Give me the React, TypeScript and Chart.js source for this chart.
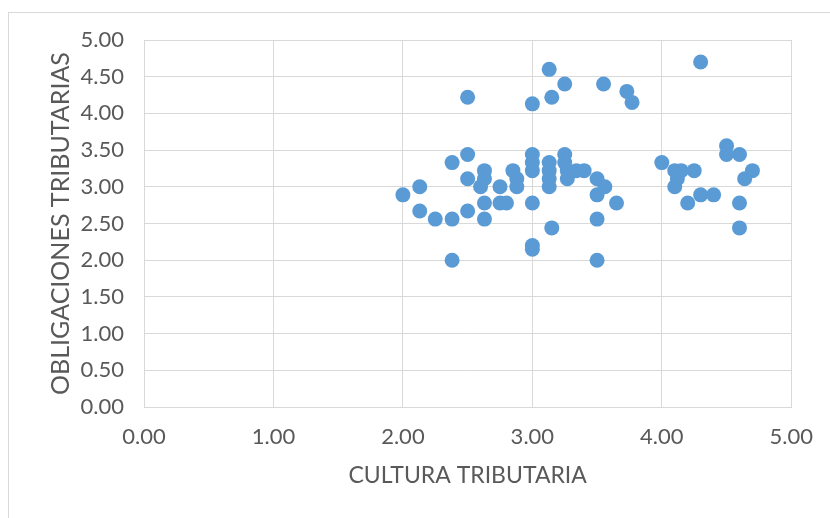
import React, { useEffect, useRef } from "react";
import { Chart, registerables } from "chart.js";

Chart.register(...registerables);

const xValues: number[] = [
  3.13, 3.25, 3.55, 3.73, 3.77, 2.5, 3.15, 3.0, 4.3,
  2.5, 2.38, 3.0, 3.0, 3.0, 3.13, 3.13, 3.13, 3.13,
  3.25, 3.25, 3.27, 3.27, 3.34, 3.4, 2.63, 2.63, 2.6, 2.5,
  2.85, 2.88, 2.88, 2.75, 2.13, 2.0, 2.13, 2.25, 2.38, 2.5,
  2.63, 2.63, 2.75, 2.8, 3.0, 3.15, 3.0, 3.0, 2.38, 3.5,
  3.5, 3.5, 3.56, 3.5, 3.65, 4.0, 4.1, 4.15, 4.12, 4.1,
  4.25, 4.2, 4.3, 4.4, 4.5, 4.5, 4.6, 4.7, 4.64, 4.6, 4.6,
];

const yValues: number[] = [
  4.6, 4.4, 4.4, 4.3, 4.15, 4.22, 4.22, 4.13, 4.7,
  3.44, 3.33, 3.44, 3.33, 3.22, 3.33, 3.22, 3.11, 3.0,
  3.44, 3.33, 3.22, 3.11, 3.22, 3.22, 3.22, 3.11, 3.0, 3.11,
  3.22, 3.11, 3.0, 3.0, 3.0, 2.89, 2.67, 2.56, 2.56, 2.67,
  2.78, 2.56, 2.78, 2.78, 2.78, 2.44, 2.2, 2.15, 2.0, 2.0,
  2.56, 3.11, 3.0, 2.89, 2.78, 3.33, 3.22, 3.22, 3.11, 3.0,
  3.22, 2.78, 2.89, 2.89, 3.56, 3.44, 3.44, 3.22, 3.11, 2.78, 2.44,
];

const xTitle = "CULTURA TRIBUTARIA";
const yTitle = "OBLIGACIONES TRIBUTARIAS";

const FONT = "Lato, 'Open Sans', sans-serif";
const TEXT = "#595959";
const GRID = "#d9d9d9";
const DOT = "#5B9BD5";

const frame = {
  id: "frame",
  beforeDraw(chart: any) {
    const ctx = chart.ctx;
    ctx.save();
    ctx.fillStyle = "#ffffff";
    ctx.fillRect(0, 0, chart.width, chart.height);
    ctx.strokeStyle = GRID;
    ctx.lineWidth = 1;
    ctx.strokeRect(8.5, 12.5, 1200, 1200);
    ctx.restore();
  },
};

export default function App() {
  const ref = useRef<HTMLCanvasElement | null>(null);

  useEffect(() => {
    document.body.style.margin = "0";
    const canvas = ref.current;
    if (!canvas) return;
    const points = xValues.map((x, i) => ({ x, y: yValues[i] }));
    const chart = new Chart(canvas, {
      type: "scatter",
      data: {
        datasets: [
          {
            data: points,
            backgroundColor: DOT,
            borderColor: DOT,
            borderWidth: 0,
            pointRadius: 7.5,
            pointHoverRadius: 7.5,
          },
        ],
      },
      plugins: [frame],
      options: {
        animation: false,
        responsive: false,
        events: [],
        layout: { padding: { top: 40, right: 38, bottom: 0, left: 0 } },
        plugins: { legend: { display: false }, tooltip: { enabled: false } },
        scales: {
          x: {
            type: "linear",
            min: 0,
            max: 5,
            afterFit: (s: any) => {
              s.height = 111;
            },
            ticks: {
              stepSize: 1,
              padding: 17,
              color: TEXT,
              font: { family: FONT, size: 22 },
              callback: (v: any) => Number(v).toFixed(2),
            },
            grid: { color: GRID, lineWidth: 1, drawTicks: false },
            border: { color: GRID },
            title: {
              display: true,
              text: xTitle,
              color: TEXT,
              font: { family: FONT, size: 23 },
              padding: { top: 0, bottom: 29 },
            },
          },
          y: {
            type: "linear",
            min: 0,
            max: 5,
            afterFit: (s: any) => {
              s.width = 144;
            },
            ticks: {
              stepSize: 0.5,
              padding: 20,
              color: TEXT,
              font: { family: FONT, size: 22 },
              callback: (v: any) => Number(v).toFixed(2),
            },
            grid: { color: GRID, lineWidth: 1, drawTicks: false },
            border: { color: GRID },
            title: {
              display: true,
              text: yTitle,
              color: TEXT,
              font: { family: FONT, size: 25 },
              padding: { top: 46, bottom: 0 },
            },
          },
        },
      },
    });
    return () => chart.destroy();
  }, []);

  return (
    <canvas
      ref={ref}
      width={830}
      height={518}
      style={{ display: "block", width: 830, height: 518 }}
    />
  );
}
